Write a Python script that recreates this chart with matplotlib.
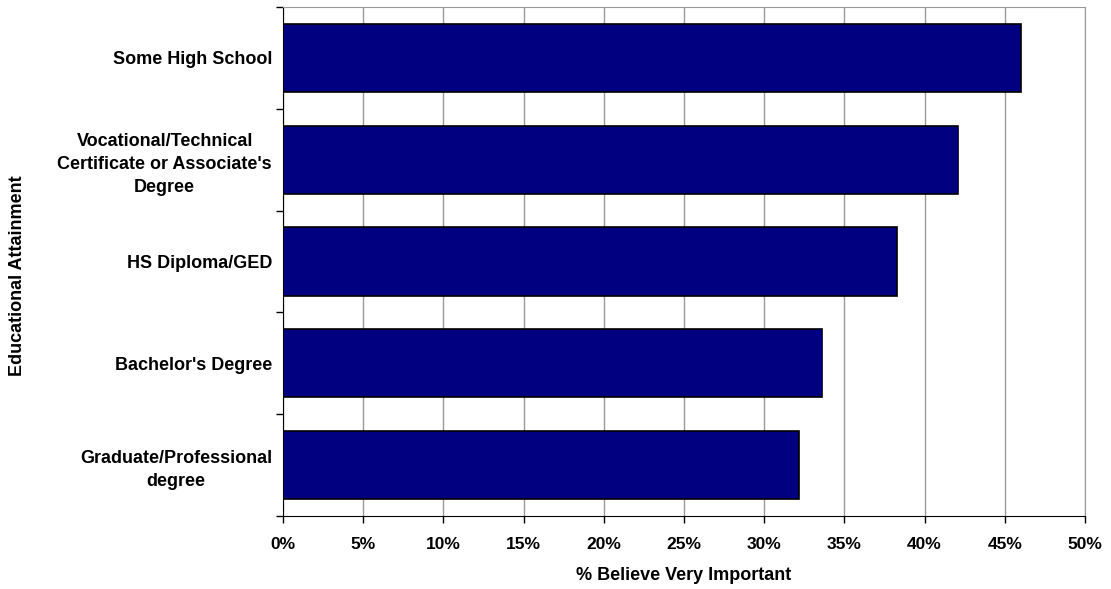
import matplotlib.pyplot as plt
from matplotlib.ticker import FixedLocator, PercentFormatter

categories = [
    "Some High School",
    "Vocational/Technical\nCertificate or Associate's\nDegree",
    "HS Diploma/GED",
    "Bachelor's Degree",
    "Graduate/Professional\ndegree",
]
values = [46.0, 42.1, 38.3, 33.6, 32.2]

plt.rcParams["font.family"] = ["Liberation Sans", "DejaVu Sans"]
plt.rcParams["font.weight"] = "bold"

fig = plt.figure(figsize=(11.11, 5.89), dpi=100)
ax = fig.add_axes([283 / 1111, 1 - 516 / 589, 802 / 1111, 509 / 589])

pos = list(range(len(categories)))
ax.barh(pos, values, height=0.67, color="#000080", edgecolor="black", linewidth=1.2, zorder=3)

ax.set_xlim(0, 50)
ax.set_ylim(len(categories) - 0.5, -0.5)
ax.set_xticks(range(0, 51, 5))
ax.xaxis.set_major_formatter(PercentFormatter(decimals=0))
ax.grid(axis="x", color="#999999", linewidth=1, zorder=0)

# category ticks sit on the boundaries between bars
ax.set_yticks(pos)
ax.set_yticklabels(categories, fontsize=13, fontweight="bold", ha="right",
                   multialignment="center", linespacing=1.45)
ax.yaxis.set_minor_locator(FixedLocator([p - 0.5 for p in pos] + [len(pos) - 0.5]))
ax.tick_params(axis="y", which="major", length=0, pad=8)
ax.tick_params(axis="y", which="minor", length=5, width=1, direction="out")
ax.tick_params(axis="x", length=5, width=1, direction="out", labelsize=12.5, pad=10)
for lbl in ax.get_xticklabels():
    lbl.set_fontweight("bold")

ax.spines["left"].set_color("black")
ax.spines["bottom"].set_color("black")
ax.spines["top"].set_color("#999999")
ax.spines["right"].set_color("#999999")

ax.set_xlabel("% Believe Very Important", fontsize=13, fontweight="bold")
ax.xaxis.set_label_coords(0.5, -(575 - 516) / 509, transform=ax.transAxes)
ax.xaxis.label.set_va("center")
ax.set_ylabel("Educational Attainment", fontsize=13, fontweight="bold")
ax.yaxis.set_label_coords(-(283 - 18) / 802, 0.473)
ax.yaxis.label.set_va("center")

fig.savefig("out.png", dpi=100)
